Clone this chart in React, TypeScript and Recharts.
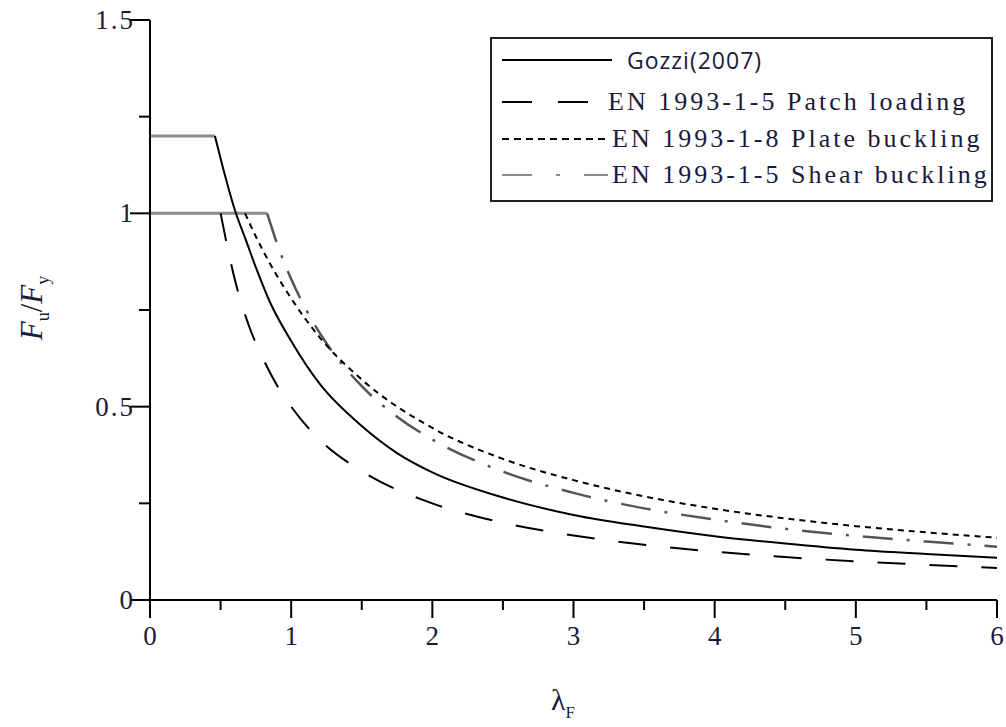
import { LineChart, Line, XAxis, YAxis, Legend } from 'recharts';

// valores (λF, Fu/Fy)
const gozziX = [0.46, 0.53, 0.6, 0.68, 0.75, 0.85, 1, 1.2, 1.5, 1.75, 2, 2.5, 3, 3.5, 4, 4.5, 5, 5.5, 6];
const gozziY = [1.2, 1.1, 1.01, 0.93, 0.86, 0.77, 0.67, 0.56, 0.45, 0.38, 0.33, 0.265, 0.22, 0.19, 0.165, 0.146, 0.13, 0.119, 0.109];

// tramos horizontales grises
const capX = [0, 0.46];
const capY = [1.2, 1.2];
const plateauX = [0, 0.83];
const plateauY = [1, 1];

const patchX = [0.5, 0.55, 0.6, 0.7, 0.8, 0.9, 1, 1.2, 1.5, 2, 2.5, 3, 3.5, 4, 4.5, 5, 5.5, 6];
const patchY = [1.0, 0.91, 0.83, 0.71, 0.625, 0.555, 0.5, 0.415, 0.333, 0.25, 0.2, 0.167, 0.143, 0.125, 0.111, 0.1, 0.091, 0.083];

const plateX = [0.673, 0.75, 0.85, 1, 1.2, 1.5, 2, 2.5, 3, 3.5, 4, 4.5, 5, 5.5, 6];
const plateY = [1.0, 0.94, 0.87, 0.78, 0.68, 0.57, 0.445, 0.365, 0.31, 0.268, 0.236, 0.211, 0.191, 0.175, 0.161];

const shearX = [0.83, 0.9, 1, 1.1, 1.25, 1.5, 1.75, 2, 2.5, 3, 3.5, 4, 4.5, 5, 5.5, 6];
const shearY = [1, 0.922, 0.83, 0.755, 0.664, 0.553, 0.474, 0.415, 0.332, 0.277, 0.237, 0.208, 0.184, 0.166, 0.151, 0.138];

const xTicks = [0, 0.5, 1, 1.5, 2, 2.5, 3, 3.5, 4, 4.5, 5, 5.5, 6];
const yTicks = [0, 0.25, 0.5, 0.75, 1, 1.25, 1.5];
const xLabels = ['0', '1', '2', '3', '4', '5', '6'];
const yLabels = ['0', '0.5', '1', '1.5'];

const legendNames = [
  'Gozzi(2007)',
  'EN 1993-1-5 Patch loading',
  'EN 1993-1-8 Plate buckling',
  'EN 1993-1-5 Shear buckling',
];

const toPoints = (xs: number[], ys: number[]) => xs.map((x, i) => ({ x, y: ys[i] }));

const serif = '"Liberation Serif", "Times New Roman", serif';
const textColor = '#1a1a3a';
const gray = '#8c8c8c';

const XTick = (props: any) => {
  const { x, y, payload } = props;
  const v = payload.value;
  const major = Number.isInteger(v);
  const label = xLabels.find((l) => Number(l) === v);
  return (
    <g>
      <line x1={x} x2={x} y1={y} y2={y + (major ? 18 : 10)} stroke="#000" strokeWidth={2} />
      {label !== undefined && (
        <text x={x} y={y + 45} textAnchor="middle" fontFamily={serif} fontSize={27} fill={textColor}>
          {label}
        </text>
      )}
    </g>
  );
};

const YTick = (props: any) => {
  const { x, y, payload } = props;
  const v = payload.value;
  const major = v * 2 === Math.round(v * 2);
  const label = yLabels.find((l) => Number(l) === v);
  return (
    <g>
      <line x1={x - (major ? 20 : 11)} x2={x} y1={y} y2={y} stroke="#000" strokeWidth={2} />
      {label !== undefined && (
        <text x={x - 15} y={y + 9} textAnchor="end" fontFamily={serif} fontSize={27} letterSpacing={2} fill={textColor}>
          {label}
        </text>
      )}
    </g>
  );
};

// muestras de línea en la leyenda
const legendSamples = [
  { x2: 112, stroke: '#000', dash: undefined as string | undefined, textX: 135, font: '"Open Sans", sans-serif', size: 23, spacing: 1 },
  { x2: 102, stroke: '#000', dash: '30 26', textX: 116, font: serif, size: 26, spacing: 3 },
  { x2: 106, stroke: '#000', dash: '7 5', textX: 120, font: serif, size: 26, spacing: 3 },
  { x2: 108, stroke: gray, dash: '30 24 4 24', textX: 120, font: serif, size: 26, spacing: 3 },
];
const legendRowY = [21, 63, 100, 136];

const LegendBox = () => (
  <div
    style={{
      position: 'relative',
      border: '2px solid #222',
      width: 503,
      height: 165,
      boxSizing: 'border-box',
      background: '#fff',
    }}
  >
    {legendNames.map((name, i) => {
      const s = legendSamples[i];
      return (
        <div key={name} style={{ position: 'absolute', left: 0, top: legendRowY[i] - 18, height: 36, width: 500 }}>
          <svg width={124} height={36} style={{ position: 'absolute', left: 8, top: 0 }}>
            <line x1={2} x2={s.x2} y1={18} y2={18} stroke={s.stroke} strokeWidth={2} strokeDasharray={s.dash} />
          </svg>
          <span
            style={{
              position: 'absolute',
              left: s.textX,
              top: 0,
              lineHeight: '36px',
              fontFamily: s.font,
              fontSize: s.size,
              letterSpacing: s.spacing,
              color: textColor,
              whiteSpace: 'nowrap',
            }}
          >
            {name}
          </span>
        </div>
      );
    })}
  </div>
);

const YLabel = () => (
  <text x={0} y={0} transform="translate(42, 308) rotate(-90)" textAnchor="middle" fontFamily={serif} fontSize={31} fill={textColor}>
    <tspan fontStyle="italic">F</tspan>
    <tspan fontSize={18} dy={7}>u</tspan>
    <tspan dy={-7}>/</tspan>
    <tspan fontStyle="italic">F</tspan>
    <tspan fontSize={18} dy={7}>y</tspan>
  </text>
);

const XLabel = () => (
  <text x={563} y={710} textAnchor="middle" fontFamily={serif} fontSize={30} fill={textColor}>
    λ<tspan fontSize={17} dy={8}>F</tspan>
  </text>
);

export default function App() {
  return (
    <div style={{ position: 'absolute', left: 0, top: 0, width: 1006, height: 727, background: '#fff' }}>
      <LineChart width={1006} height={727} margin={{ top: 20, right: 9, left: 0, bottom: 0 }}>
        <XAxis
          type="number"
          dataKey="x"
          domain={[0, 6]}
          ticks={xTicks}
          interval={0}
          height={127}
          tickSize={0}
          tickMargin={0}
          tickLine={false}
          tick={<XTick />}
          axisLine={{ stroke: '#000', strokeWidth: 2 }}
          label={{ content: () => <XLabel /> }}
          allowDataOverflow
        />
        <YAxis
          type="number"
          dataKey="y"
          domain={[0, 1.5]}
          ticks={yTicks}
          interval={0}
          width={150}
          tickSize={0}
          tickMargin={0}
          tickLine={false}
          tick={<YTick />}
          axisLine={{ stroke: '#000', strokeWidth: 2 }}
          label={{ content: () => <YLabel /> }}
          allowDataOverflow
        />
        <Legend
          layout="horizontal"
          verticalAlign="middle"
          content={() => <LegendBox />}
          wrapperStyle={{ position: 'absolute', left: 490, top: 37, width: 503, height: 165 }}
        />
        <Line
          data={toPoints(capX, capY)}
          dataKey="y"
          stroke={gray}
          strokeWidth={3}
          dot={false}
          legendType="none"
          isAnimationActive={false}
        />
        <Line
          data={toPoints(plateauX, plateauY)}
          dataKey="y"
          stroke={gray}
          strokeWidth={3}
          dot={false}
          legendType="none"
          isAnimationActive={false}
        />
        <Line
          data={toPoints(shearX, shearY)}
          dataKey="y"
          type="monotone"
          stroke="#555"
          strokeWidth={2.5}
          strokeDasharray="30 14 3 14"
          dot={false}
          isAnimationActive={false}
          name={legendNames[3]}
        />
        <Line
          data={toPoints(patchX, patchY)}
          dataKey="y"
          type="monotone"
          stroke="#000"
          strokeWidth={2}
          strokeDasharray="28 24"
          dot={false}
          isAnimationActive={false}
          name={legendNames[1]}
        />
        <Line
          data={toPoints(plateX, plateY)}
          dataKey="y"
          type="monotone"
          stroke="#000"
          strokeWidth={2}
          strokeDasharray="6 5"
          dot={false}
          isAnimationActive={false}
          name={legendNames[2]}
        />
        <Line
          data={toPoints(gozziX, gozziY)}
          dataKey="y"
          type="monotone"
          stroke="#000"
          strokeWidth={2}
          dot={false}
          isAnimationActive={false}
          name={legendNames[0]}
        />
      </LineChart>
    </div>
  );
}
